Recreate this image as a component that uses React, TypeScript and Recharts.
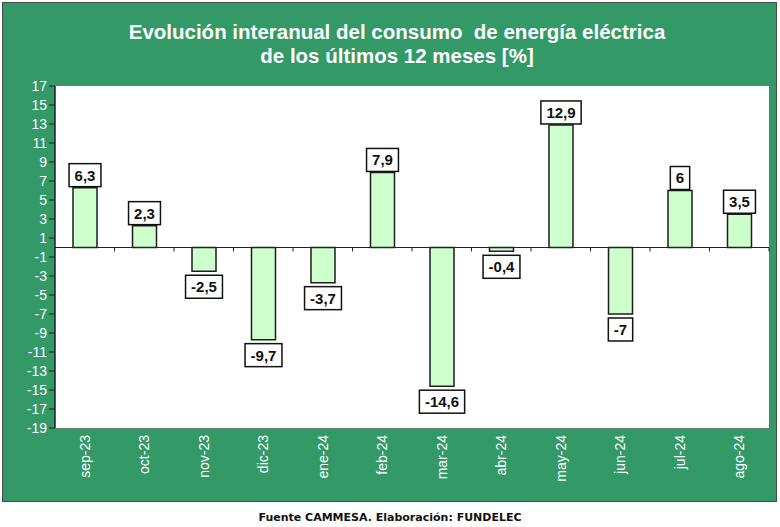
import { Bar, BarChart, CartesianGrid, LabelList, ReferenceLine, XAxis, YAxis } from "recharts";

const months = [
  "sep-23", "oct-23", "nov-23", "dic-23", "ene-24", "feb-24",
  "mar-24", "abr-24", "may-24", "jun-24", "jul-24", "ago-24",
];
const variation = [6.3, 2.3, -2.5, -9.7, -3.7, 7.9, -14.6, -0.4, 12.9, -7, 6, 3.5];
const yTicks = [-19, -17, -15, -13, -11, -9, -7, -5, -3, -1, 1, 3, 5, 7, 9, 11, 13, 15, 17];

const data = months.map((month, i) => ({ month, value: variation[i] }));

const FONT = '"Liberation Sans", Arial, sans-serif';
const GREEN = "#339966";

const fmt = (v: number) => String(v).replace(".", ",");

function ValueBox(props: any) {
  const { x, y, width, height, value } = props;
  const v = Number(value);
  const text = fmt(v);
  const top = Math.min(y, y + height);
  const bottom = Math.max(y, y + height);
  const cx = x + width / 2;
  // rough text width for bold 15px
  const w = text.split("").reduce((s, c) => s + (c === "," ? 4.2 : c === "-" ? 5 : 8.35), 0) + 11;
  const h = 23;
  const boxY = v >= 0 ? top - h - 1 : bottom + 4;
  return (
    <g>
      <rect x={cx - w / 2} y={boxY} width={w} height={h} fill="#fff" stroke="#111" strokeWidth={1.5} />
      <text
        x={cx}
        y={boxY + h / 2}
        dy="0.36em"
        textAnchor="middle"
        fontFamily={FONT}
        fontWeight="bold"
        fontSize={15}
        fill="#111"
      >
        {text}
      </text>
    </g>
  );
}

// zero line with small marks on the category boundaries
function ZeroLine(props: any) {
  const { x1, y1, x2 } = props;
  const step = (x2 - x1) / months.length;
  return (
    <g>
      <line x1={x1} y1={y1} x2={x2} y2={y1} stroke="#222" strokeWidth={1.2} />
      {months.map((_, i) => (
        <line key={i} x1={x1 + step * (i + 1)} y1={y1} x2={x1 + step * (i + 1)} y2={y1 + 4} stroke="#222" />
      ))}
    </g>
  );
}

function MonthTick(props: any) {
  const { x, y, payload } = props;
  return (
    <g transform={`translate(${x},${y})`}>
      <text
        transform="rotate(-90)"
        x={1}
        dy="0.35em"
        textAnchor="end"
        fontFamily={FONT}
        fontSize={14}
        fill="#fff"
      >
        {payload.value}
      </text>
    </g>
  );
}

export default function App() {
  return (
    <div style={{ position: "absolute", left: 0, top: 0, width: 780, height: 527, background: "#fff" }}>
      <div
        style={{
          position: "absolute",
          left: 2,
          top: 2,
          width: 773,
          height: 498,
          background: GREEN,
          border: "1px solid #4a4a4a",
        }}
      />
      <div
        style={{
          position: "absolute",
          left: 0,
          top: 20,
          width: 794,
          textAlign: "center",
          color: "#fff",
          fontFamily: FONT,
          fontWeight: "bold",
          fontSize: 20.5,
          lineHeight: "24px",
          whiteSpace: "pre",
        }}
      >
        {"Evolución interanual del consumo  de energía eléctrica\nde los últimos 12 meses [%]"}
      </div>
      <div style={{ position: "absolute", left: 0, top: 0 }}>
        <BarChart width={780} height={527} data={data} margin={{ top: 86, right: 11, bottom: 39, left: 0 }} barSize={24}>
          <rect x={55} y={86} width={714} height={342} fill="#fff" />
          <CartesianGrid vertical={false} stroke="#7a7a7a" strokeWidth={1.5} />
          <XAxis
            dataKey="month"
            height={60}
            axisLine={false}
            tickLine={false}
            tick={<MonthTick />}
            interval={0}
          />
          <YAxis
            width={55}
            domain={[-19, 17]}
            ticks={yTicks}
            interval={0}
            allowDataOverflow
            axisLine={{ stroke: "#222", strokeWidth: 1.5 }}
            tickLine={{ stroke: "#222" }}
            tickSize={6}
            tick={{ fill: "#fff", fontSize: 14, fontFamily: FONT }}
          />
          <ReferenceLine y={0} shape={<ZeroLine />} />
          <Bar dataKey="value" fill="#ccffcc" stroke="#1e1e1e" strokeWidth={1.5} isAnimationActive={false}>
            <LabelList dataKey="value" content={<ValueBox />} />
          </Bar>
        </BarChart>
      </div>
      <div
        style={{
          position: "absolute",
          left: 0,
          top: 510,
          width: 780,
          textAlign: "center",
          color: "#111",
          fontFamily: '"DejaVu Sans", Verdana, sans-serif',
          fontWeight: "bold",
          fontSize: 11,
          lineHeight: "16px",
        }}
      >
        Fuente CAMMESA. Elaboración: FUNDELEC
      </div>
    </div>
  );
}
